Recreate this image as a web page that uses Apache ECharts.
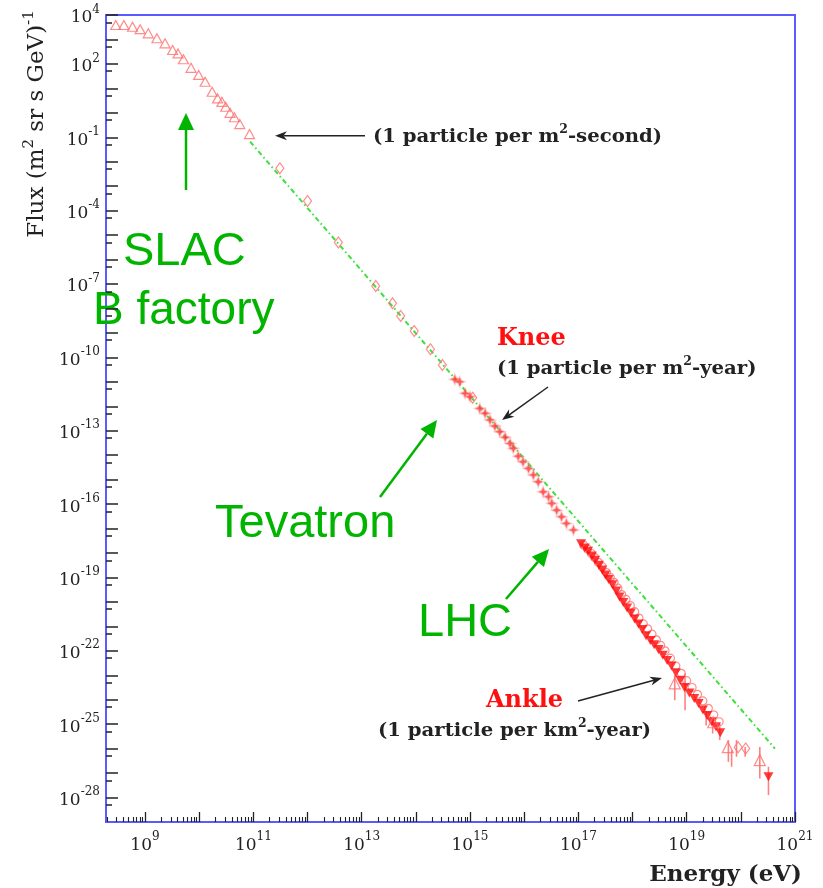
<!DOCTYPE html>
<html>
<head>
<meta charset="utf-8">
<script src="https://cdn.jsdelivr.net/npm/echarts@6/dist/echarts.min.js"></script>
<style>
  html, body { margin: 0; padding: 0; background: #fff; }
  #chart { width: 823px; height: 888px; }
</style>
</head>
<body>
<div id="chart"></div>
<script>
// Cosmic-ray energy spectrum. All numbers are log10 values:
// energy in eV, flux in (m^2 sr s GeV)^-1.

// low-energy direct measurements (open triangles)
const lowE = [8.46, 8.61, 8.77, 8.91, 9.06, 9.22, 9.37, 9.51, 9.61, 9.71, 9.85, 9.99, 10.11, 10.24, 10.34, 10.42, 10.49, 10.57, 10.65, 10.75, 10.93];
const lowF = [3.59, 3.59, 3.52, 3.42, 3.25, 3.05, 2.84, 2.57, 2.43, 2.19, 1.84, 1.55, 1.27, 0.86, 0.59, 0.45, 0.25, 0.00, -0.18, -0.46, -0.87];

// balloon / satellite points (open diamonds)
const diaE = [11.49, 12.00, 12.57, 13.26, 13.57, 13.72, 13.97, 14.27, 14.49, 15.05, 19.95, 20.09];
const diaF = [-2.27, -3.61, -5.30, -7.08, -7.79, -8.31, -8.92, -9.67, -10.31, -11.65, -25.94, -25.99];

// air-shower points around the knee (stars)
const kneeE = [14.72, 14.81, 14.91, 15.00, 15.18, 15.28, 15.37, 15.46, 15.55, 15.65, 15.74, 15.80, 15.89, 15.98, 16.08, 16.17, 16.26, 16.35, 16.45, 16.51, 16.60, 16.69, 16.78, 16.91];
const kneeF = [-10.90, -11.00, -11.47, -11.61, -12.09, -12.29, -12.56, -12.81, -13.04, -13.27, -13.52, -13.72, -14.04, -14.27, -14.54, -14.81, -15.09, -15.50, -15.70, -15.97, -16.25, -16.52, -16.79, -17.06];

// ultra-high-energy points (filled down triangles)
const uheE = [17.05, 17.12, 17.18, 17.25, 17.31, 17.38, 17.44, 17.50, 17.56, 17.63, 17.70, 17.76, 17.83, 17.90, 17.97, 18.04, 18.11, 18.18, 18.25, 18.33, 18.40, 18.48, 18.56, 18.64, 18.72, 18.80, 18.88, 18.96, 19.05, 19.14, 19.22, 19.30, 19.38, 19.46, 19.54, 19.62, 20.51];
const uheF = [-17.62, -17.80, -17.93, -18.12, -18.30, -18.50, -18.70, -18.90, -19.08, -19.30, -19.55, -19.80, -20.02, -20.25, -20.45, -20.70, -20.90, -21.13, -21.38, -21.58, -21.75, -21.95, -22.18, -22.40, -22.62, -22.90, -23.20, -23.50, -23.72, -23.95, -24.15, -24.42, -24.65, -24.90, -25.10, -25.35, -27.15];

// ultra-high-energy points (open circles)
const circE = [17.10, 17.17, 17.24, 17.30, 17.37, 17.44, 17.52, 17.59, 17.66, 17.73, 17.80, 17.88, 17.96, 18.04, 18.12, 18.20, 18.28, 18.36, 18.44, 18.52, 18.60, 18.70, 18.80, 18.90, 19.00, 19.10, 19.20, 19.30, 19.40, 19.50, 19.60];
const circF = [-17.68, -17.84, -18.02, -18.18, -18.38, -18.56, -18.80, -19.00, -19.20, -19.44, -19.70, -19.90, -20.15, -20.40, -20.66, -20.90, -21.10, -21.32, -21.55, -21.78, -22.00, -22.30, -22.62, -22.92, -23.22, -23.50, -23.78, -24.05, -24.35, -24.62, -24.90];

// highest-energy open triangles
const topE = [18.78, 19.49, 19.76, 20.35];
const topF = [-23.33, -24.92, -25.94, -26.47];

// error bars: energy, upper flux, lower flux
const errE  = [18.78, 18.97, 19.36, 19.48, 19.61, 19.77, 19.83, 19.92, 20.08, 20.35, 20.51];
const errHi = [-23.00, -22.92, -24.50, -24.77, -24.97, -25.65, -26.06, -25.65, -25.93, -25.93, -26.74];
const errLo = [-24.02, -24.43, -25.05, -25.38, -25.65, -26.54, -26.74, -26.33, -26.33, -27.22, -27.90];

// reference power law, drawn between two end points
const fitE = [10.94, 20.63];
const fitF = [-1.18, -26.00];

// axis ticks and labels
const xMajor = [9, 10, 11, 12, 13, 14, 15, 16, 17, 18, 19, 20, 21];
const xLabels = [9, 11, 13, 15, 17, 19, 21];
const yMajor = [4, 3, 2, 1, 0, -1, -2, -3, -4, -5, -6, -7, -8, -9, -10, -11, -12, -13, -14, -15, -16, -17, -18, -19, -20, -21, -22, -23, -24, -25, -26, -27, -28];
const yLabels = [4, 2, -1, -4, -7, -10, -13, -16, -19, -22, -25, -28];

const zip = (a, b) => a.map((v, i) => [v, b[i]]);

// minor ticks: 2..9 inside each decade on x, one short tick below each decade on y
const xMinor = [];
for (let d = 8; d <= 20; d++) {
  for (let m = 2; m <= 9; m++) {
    const v = d + Math.log10(m);
    if (v > 8.28 && v < 21) xMinor.push(v);
  }
}
const yMinor = yMajor.map(v => v - 0.3);

const SERIF = '"DejaVu Serif", "Liberation Serif", serif';
const SANS = '"Liberation Sans", Arial, sans-serif';
const INK = '#222';
const GREEN = '#00b400';

const powRich = (base, sup) => ({
  b: { fontFamily: SERIF, fontSize: base, color: INK, lineHeight: base + 6, verticalAlign: 'bottom' },
  s: { fontFamily: SERIF, fontSize: sup, color: INK, lineHeight: sup + 1, verticalAlign: 'top' }
});
const powFmt = v => '{b|10}{s|' + Math.round(v) + '}';

const xMin = 8.28, xMax = 21, yMin = -29, yMax = 4;

// annotation helpers
function arrow(x1, y1, x2, y2, color, width, headLen, headW, notch) {
  const a = Math.atan2(y2 - y1, x2 - x1);
  const c = Math.cos(a), s = Math.sin(a);
  const bx = x2 - headLen * c, by = y2 - headLen * s;
  const nx = x2 - headLen * notch * c, ny = y2 - headLen * notch * s;
  const px = -s * headW / 2, py = c * headW / 2;
  return [
    { type: 'line', silent: true, shape: { x1: x1, y1: y1, x2: nx, y2: ny }, style: { stroke: color, lineWidth: width } },
    { type: 'polygon', silent: true, shape: { points: [[x2, y2], [bx + px, by + py], [nx, ny], [bx - px, by - py]] }, style: { fill: color } }
  ];
}
function richText(x, y, text, size, supSize, color, weight, scaleX, align) {
  return {
    type: 'text', silent: true, x: x, y: y, scaleX: scaleX || 1,
    style: {
      text: text, textAlign: align || 'left', textVerticalAlign: 'middle',
      rich: {
        a: { fontFamily: SERIF, fontSize: size, fontWeight: weight, fill: color, lineHeight: size + 4, verticalAlign: 'bottom' },
        s: { fontFamily: SERIF, fontSize: supSize, fontWeight: weight, fill: color, lineHeight: supSize, verticalAlign: 'top' }
      }
    }
  };
}
function plainText(x, y, text, font, color, align) {
  return {
    type: 'text', silent: true, x: x, y: y,
    style: { text: text, font: font, fill: color, textAlign: align || 'left', textVerticalAlign: 'middle' }
  };
}

const hollow = '#ff6e6e';
const noLine = { show: false, onZero: false };

const option = {
  animation: false,
  backgroundColor: '#fff',
  grid: { left: 106, top: 15, right: 28, bottom: 66, show: true, borderColor: '#5a5aff', borderWidth: 2, backgroundColor: 'transparent' },
  xAxis: [
    {
      type: 'value', min: xMin, max: xMax, position: 'bottom',
      axisLine: noLine, splitLine: { show: false },
      axisTick: { show: true, inside: true, length: 10, customValues: xMajor, lineStyle: { color: INK, width: 1.3 } },
      axisLabel: { show: true, customValues: xLabels, margin: 9, formatter: powFmt, rich: powRich(17, 12) }
    },
    {
      type: 'value', min: xMin, max: xMax, position: 'bottom',
      axisLine: noLine, splitLine: { show: false },
      axisTick: { show: true, inside: true, length: 5, customValues: xMinor, lineStyle: { color: INK, width: 1.1 } },
      axisLabel: { show: false }
    }
  ],
  yAxis: [
    {
      type: 'value', min: yMin, max: yMax, position: 'left',
      axisLine: noLine, splitLine: { show: false },
      axisTick: { show: true, inside: true, length: 12, customValues: yMajor, lineStyle: { color: INK, width: 1.5 } },
      axisLabel: { show: true, customValues: yLabels, margin: 6, formatter: powFmt, rich: powRich(17, 12) }
    },
    {
      type: 'value', min: yMin, max: yMax, position: 'left',
      axisLine: noLine, splitLine: { show: false },
      axisTick: { show: true, inside: true, length: 6, customValues: yMinor, lineStyle: { color: INK, width: 1.5 } },
      axisLabel: { show: false }
    }
  ],
  series: [
    {
      name: 'power law', type: 'line', data: zip(fitE, fitF), symbol: 'none', z: 1,
      lineStyle: { color: '#3ee03e', width: 2, type: [5, 3, 1.5, 3] }
    },
    {
      name: 'error bars', type: 'custom', z: 2,
      data: errE.map((e, i) => [e, errHi[i], errLo[i]]),
      encode: { x: 0, y: [1, 2] },
      renderItem: function (params, api) {
        const p1 = api.coord([api.value(0), api.value(1)]);
        const p2 = api.coord([api.value(0), api.value(2)]);
        return { type: 'line', shape: { x1: p1[0], y1: p1[1], x2: p2[0], y2: p2[1] }, style: { stroke: '#ff8080', lineWidth: 1.6 } };
      }
    },
    {
      name: 'direct', type: 'scatter', data: zip(lowE, lowF), symbol: 'triangle', symbolSize: [10, 9], z: 3,
      itemStyle: { color: 'rgba(255,255,255,0)', borderColor: hollow, borderWidth: 1.2 }
    },
    {
      name: 'balloon', type: 'scatter', data: zip(diaE, diaF), symbol: 'diamond', symbolSize: [8, 11], z: 3,
      itemStyle: { color: 'rgba(255,255,255,0)', borderColor: hollow, borderWidth: 1.2 }
    },
    {
      name: 'knee', type: 'scatter', data: zip(kneeE, kneeF), z: 4,
      symbol: 'path://M0,-10 L3,-3 L10,0 L3,3 L0,10 L-3,3 L-10,0 L-3,-3 Z', symbolSize: 9,
      itemStyle: { color: '#ff2a2a', borderColor: 'rgba(255,130,130,0.5)', borderWidth: 2 }
    },
    {
      name: 'circles', type: 'scatter', data: zip(circE, circF), symbol: 'circle', symbolSize: 8, z: 3,
      itemStyle: { color: 'rgba(255,255,255,0)', borderColor: '#ff7070', borderWidth: 1.2 }
    },
    {
      name: 'uhe', type: 'scatter', data: zip(uheE, uheF), symbol: 'triangle', symbolRotate: 180, symbolSize: [10, 9], z: 4,
      itemStyle: { color: '#ff0a0a' }
    },
    {
      name: 'top', type: 'scatter', data: zip(topE, topF), symbol: 'triangle', symbolSize: [11, 11], z: 4,
      itemStyle: { color: 'rgba(255,255,255,0)', borderColor: hollow, borderWidth: 1.2 }
    }
  ],
  graphic: {
    elements: [
      // axis titles
      Object.assign(richText(35, 124, '{a|Flux (m}{s|2}{a| sr s GeV)}{s|-1}', 23, 15, INK, 'normal', 1, 'center'), { rotation: Math.PI / 2 }),
      plainText(802, 875, 'Energy (eV)', 'bold 23px ' + SERIF, INK, 'right'),

      // flux-rate annotations
      richText(373, 135, '{a|(1 particle per m}{s|2}{a|-second)}', 19, 12, INK, 'bold', 1.035),
      ...arrow(365, 135.7, 275, 135.7, INK, 1.5, 12, 9, 0.7),

      plainText(497, 339, 'Knee', 'bold 24px ' + SERIF, '#ff1010'),
      richText(497, 367, '{a|(1 particle per m}{s|2}{a|-year)}', 19, 12, INK, 'bold', 1.035),
      ...arrow(548, 387, 502, 420, INK, 1.5, 12, 9, 0.7),

      plainText(486, 701, 'Ankle', 'bold 24px ' + SERIF, '#ff1010'),
      richText(378, 729, '{a|(1 particle per km}{s|2}{a|-year)}', 19, 12, INK, 'bold', 1.035),
      ...arrow(578, 701, 662, 678, INK, 1.5, 12, 9, 0.7),

      // accelerator reach
      plainText(123, 252, 'SLAC', '47px ' + SANS, GREEN),
      plainText(93, 311, 'B factory', '46px ' + SANS, GREEN),
      ...arrow(186, 190, 186, 113, GREEN, 2.5, 17, 16, 1),
      plainText(215, 524, 'Tevatron', '47px ' + SANS, GREEN),
      ...arrow(380, 497, 437, 420, GREEN, 2.5, 17, 16, 1),
      plainText(418, 623, 'LHC', '47px ' + SANS, GREEN),
      ...arrow(506, 599, 549, 549, GREEN, 2.5, 17, 16, 1)
    ]
  }
};

const chart = echarts.init(document.getElementById('chart'));
chart.setOption(option);
</script>
</body>
</html>
